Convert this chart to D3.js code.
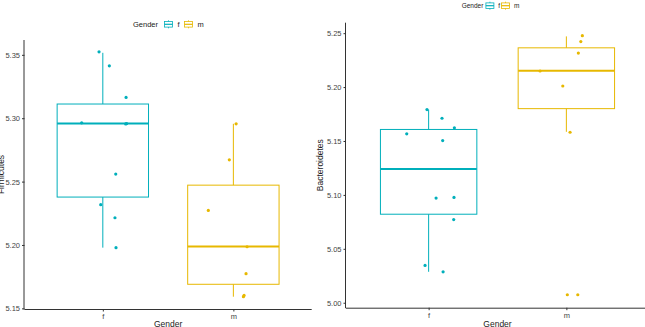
<!DOCTYPE html>
<html>
<head>
<meta charset="utf-8">
<script src="https://cdn.jsdelivr.net/npm/d3@7"></script>
<style>
  body { margin: 0; background: #fff; }
  svg text { font-family: "Liberation Sans", Arial, sans-serif; }
</style>
</head>
<body>
<div id="chart"></div>
<script>
// groups and colours
var categories = ["f", "m"];
var groupColors = ["#00AFBB", "#E7B800"];

// Firmicutes values (jittered points) and their jitter offsets (in category steps)
var firmF = [5.3524, 5.3413, 5.3164, 5.2964, 5.2958, 5.2955, 5.2559, 5.2318, 5.2215, 5.1979];
var firmFJit = [-0.029, 0.05, 0.178, -0.162, 0.183, 0.175, 0.099, -0.016, 0.093, 0.101];
var firmM = [5.2956, 5.2672, 5.2273, 5.1986, 5.1774, 5.1602, 5.1592];
var firmMJit = [0.021, -0.031, -0.192, 0.105, 0.097, 0.082, 0.077];
// box summaries: [lower whisker, q1, median, q3, upper whisker]
var firmBoxF = [5.1979, 5.2378, 5.2958, 5.3112, 5.3516];
var firmBoxM = [5.1592, 5.1690, 5.1988, 5.2472, 5.2956];

// Bacteroidetes
var bactF = [5.1791, 5.1711, 5.1622, 5.1566, 5.1504, 5.0971, 5.0977, 5.0771, 5.0346, 5.0287];
var bactFJit = [-0.012, 0.097, 0.187, -0.159, 0.102, 0.054, 0.184, 0.182, -0.026, 0.105];
var bactM = [5.2477, 5.2422, 5.2315, 5.2149, 5.2010, 5.1581, 5.0074, 5.0074];
var bactMJit = [0.116, 0.105, 0.087, -0.191, -0.026, 0.027, 0.007, 0.083];
var bactBoxF = [5.0287, 5.0821, 5.1240, 5.1607, 5.1791];
var bactBoxM = [5.1585, 5.1800, 5.2152, 5.2364, 5.2470];

// tick labels
var firmTicks = [5.15, 5.20, 5.25, 5.30, 5.35];
var bactTicks = [5.00, 5.05, 5.10, 5.15, 5.20, 5.25];

var W = 645, H = 327;
var svg = d3.select("#chart").append("svg")
  .attr("width", W).attr("height", H);

function drawPanel(opt) {
  var g = svg.append("g");

  var x = d3.scalePoint()
    .domain(categories)
    .range([opt.left, opt.right])
    .padding(0.6);
  var step = x.step();

  var y = d3.scaleLinear()
    .domain(opt.domain)
    .range([opt.bottom, opt.top]);

  // boxes
  opt.boxes.forEach(function(b, i) {
    var cx = x(categories[i]);
    var hw = step * 0.35;
    var col = groupColors[i];
    // whiskers
    g.append("line")
      .attr("x1", cx).attr("x2", cx)
      .attr("y1", y(b[3])).attr("y2", y(b[4]))
      .attr("stroke", col).attr("stroke-width", 1);
    g.append("line")
      .attr("x1", cx).attr("x2", cx)
      .attr("y1", y(b[1])).attr("y2", y(b[0]))
      .attr("stroke", col).attr("stroke-width", 1);
    g.append("rect")
      .attr("x", cx - hw).attr("y", y(b[3]))
      .attr("width", hw * 2).attr("height", y(b[1]) - y(b[3]))
      .attr("fill", "none")
      .attr("stroke", col).attr("stroke-width", 1);
    g.append("line")
      .attr("x1", cx - hw).attr("x2", cx + hw)
      .attr("y1", y(b[2])).attr("y2", y(b[2]))
      .attr("stroke", col).attr("stroke-width", 2);
  });

  // jittered points
  opt.points.forEach(function(p, i) {
    g.selectAll(null)
      .data(p.vals)
      .enter()
      .append("circle")
        .attr("cx", function(d, j) { return x(categories[i]) + p.jit[j] * step; })
        .attr("cy", function(d) { return y(d); })
        .attr("r", 1.6)
        .attr("fill", groupColors[i]);
  });

  // axes
  var yAxis = g.append("g")
    .attr("transform", "translate(" + opt.left0 + ",0)")
    .call(d3.axisLeft(y).tickValues(opt.ticks).tickFormat(d3.format(".2f")).tickSize(2.5).tickPadding(2));
  var xAxis = g.append("g")
    .attr("transform", "translate(0," + opt.bottom + ")")
    .call(d3.axisBottom(x).tickSize(2.5).tickPadding(2.5));
  [yAxis, xAxis].forEach(function(a) {
    a.select(".domain").attr("stroke", "#333").attr("stroke-width", 1);
    a.selectAll(".tick line").attr("stroke", "#333");
    a.selectAll(".tick text").attr("fill", "#444").style("font-size", "7.5px");
  });
  // axis line spans whole range (including expansion)
  yAxis.select(".domain").attr("d", "M-0.5," + opt.top + "V" + (opt.bottom + 0.5));
  xAxis.select(".domain").attr("d", "M" + opt.left0 + ",0.5H" + opt.right);

  // axis titles (cut by the picture edge, as in the original)
  g.append("text")
    .attr("x", (opt.left0 + opt.right) / 2)
    .attr("y", 327)
    .attr("text-anchor", "middle")
    .style("font-size", "8.5px")
    .attr("fill", "#222")
    .text("Gender");
  g.append("text")
    .attr("transform", "translate(" + opt.ytitleX + "," + (opt.top + opt.bottom) / 2 + ") rotate(-90)")
    .attr("text-anchor", "middle")
    .style("font-size", "8.5px")
    .attr("fill", "#222")
    .text(opt.ytitle);

  // legend
  var fs = opt.legFont;
  var lg = g.append("g").attr("transform", "translate(" + opt.legX + "," + opt.legY + ")");
  lg.append("text").attr("x", 0).attr("y", fs * 0.37).style("font-size", fs + "px").attr("fill", "#222").text("Gender");
  categories.forEach(function(c, i) {
    var kx = opt.legKeys[i];
    var col = groupColors[i];
    var kw = opt.legKeyW;
    lg.append("line").attr("x1", kx + kw / 2).attr("x2", kx + kw / 2).attr("y1", -kw / 2).attr("y2", kw / 2)
      .attr("stroke", col).attr("stroke-width", 0.8);
    lg.append("rect").attr("x", kx).attr("y", -kw * 0.35).attr("width", kw).attr("height", kw * 0.7)
      .attr("fill", "#fff").attr("stroke", col).attr("stroke-width", 0.8);
    lg.append("line").attr("x1", kx).attr("x2", kx + kw).attr("y1", 0).attr("y2", 0)
      .attr("stroke", col).attr("stroke-width", 1.2);
    lg.append("text").attr("x", kx + opt.legTextDx).attr("y", fs * 0.37).style("font-size", fs + "px").attr("fill", "#222").text(c);
  });
}

drawPanel({
  left0: 24.5, left: 24.5, right: 311.7, top: 40, bottom: 309,
  domain: [5.1495, 5.3617], ticks: firmTicks,
  boxes: [firmBoxF, firmBoxM],
  points: [{vals: firmF, jit: firmFJit}, {vals: firmM, jit: firmMJit}],
  ytitle: "Firmicutes", ytitleX: 3.5,
  legX: 133, legY: 24.3, legKeys: [31.5, 51.5], legKeyW: 8, legTextDx: 13, legFont: 7.5
});

drawPanel({
  left0: 346, left: 346, right: 649, top: 22.7, bottom: 307.7,
  domain: [4.9954, 5.2597], ticks: bactTicks,
  boxes: [bactBoxF, bactBoxM],
  points: [{vals: bactF, jit: bactFJit}, {vals: bactM, jit: bactMJit}],
  ytitle: "Bacteroidetes", ytitleX: 322.5,
  legX: 461.7, legY: 5.7, legKeys: [24.2, 39.8], legKeyW: 8, legTextDx: 12.4, legFont: 6.5
});
</script>
</body>
</html>
